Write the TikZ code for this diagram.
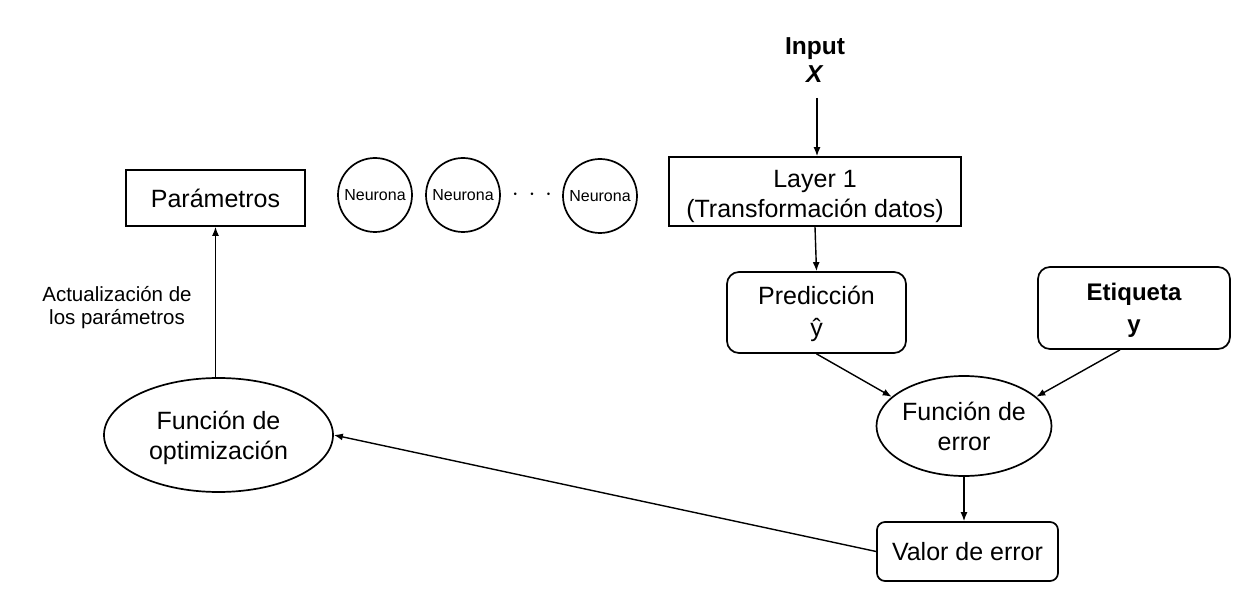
\documentclass[tikz,border=0pt]{standalone}
\usepackage{fontspec}
\setmainfont{Liberation Sans}
\usetikzlibrary{shapes.geometric,arrows.meta}
\begin{document}
\begin{tikzpicture}[x=1pt,y=-1pt,
  every node/.style={align=center, inner sep=0pt},
  txt/.style={font=\fontsize{25}{30}\selectfont},
  sqbox/.style={draw, line width=1.7pt, txt},
  rbox/.style={draw, line width=1.7pt, rounded corners=12pt, txt},
  ell/.style={draw, ellipse, line width=1.7pt, txt},
  neu/.style={draw, circle, line width=1.7pt, minimum size=74pt, font=\fontsize{16}{18}\selectfont},
  arr/.style={line width=1.4pt, -{Latex[length=9pt,width=7pt]}}
]
\useasboundingbox (0,0) rectangle (1253,612);
\fill[white] (0,0) rectangle (1253,612);

\node[font=\fontsize{24.5}{28}\selectfont\bfseries] (input) at (815,60) {Input\\\textit{X}};
\node[sqbox, minimum width=292pt, minimum height=69pt] (layer) at (815,191.5) {\rule{0pt}{28pt}Layer 1\\(Transformación datos)};
\node[rbox, minimum width=179pt, minimum height=81pt] (pred) at (816.5,312.5) {\rule{0pt}{22pt}Predicción\\[2pt]ŷ};
\node[rbox, minimum width=192pt, minimum height=82pt, font=\fontsize{24}{30}\selectfont\bfseries] (lab) at (1134,308) {\rule{0pt}{22pt}Etiqueta\\[2pt]y};
\node[ell, minimum width=175pt, minimum height=100pt] (err) at (964,426) {Función de\\error};
\node[rbox, rounded corners=8pt, minimum width=181pt, minimum height=59pt] (val) at (967.5,551.5) {Valor de error};
\node[ell, minimum width=229pt, minimum height=114pt] (opt) at (218.5,435) {\rule{0pt}{24pt}Función de\\optimización};
\node[sqbox, minimum width=179pt, minimum height=56pt] (par) at (215.5,198) {Parámetros};
\node[neu] (n1) at (375,195) {Neurona};
\node[neu] (n2) at (463,195) {Neurona};
\node[font=\fontsize{30}{30}\selectfont] (dots) at (532,195) {$\cdot\,\cdot\,\cdot$};
\node[neu] (n3) at (600,196) {Neurona};
\node[font=\fontsize{20.5}{23}\selectfont] (upd) at (117,308) {Actualización de\\los parámetros};

\coordinate (inbot) at (817,98);
\draw[arr] (inbot) -- (inbot |- layer.north);
\draw[arr] (layer.south) -- (pred.north);
\draw[arr] (pred.south) -- (err.158);
\draw[arr] ([xshift=-14pt]lab.south) -- (err.22);
\draw[arr] (err.south) -- (err.south |- val.north);
\draw[arr] (val.west) -- (opt.east);
\draw[arr] (opt.north -| par.south) -- (par.south);
\end{tikzpicture}
\end{document}
